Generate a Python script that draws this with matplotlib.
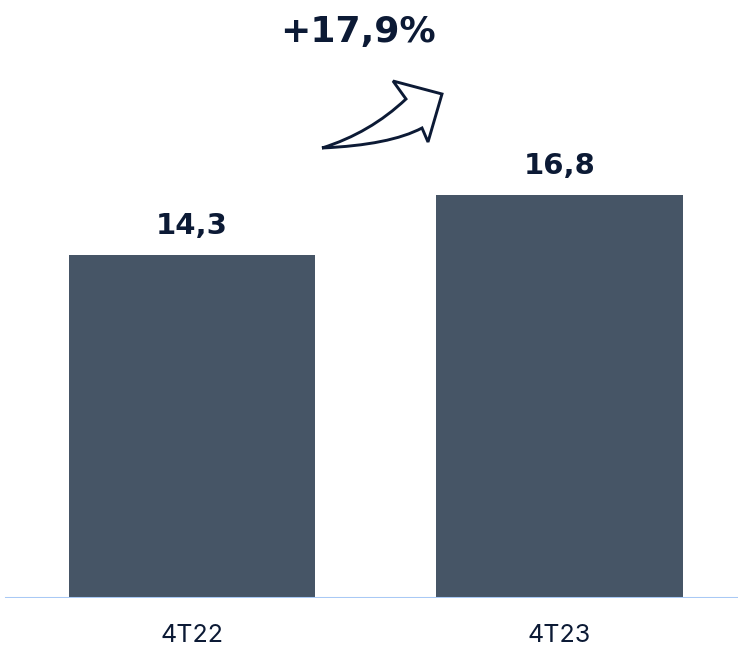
import matplotlib.pyplot as plt
from matplotlib.path import Path
from matplotlib.patches import PathPatch

# data
categories = ['4T22', '4T23']
values = [14.3, 16.8]
value_labels = ['14,3', '16,8']
growth_label = '+17,9%'

bar_color = '#465566'
text_color = '#0c1a35'
axis_color = '#a9c9f5'

plt.rcParams['font.family'] = ['Inter', 'DejaVu Sans']
bold_font = ['DejaVu Sans']

fig = plt.figure(figsize=(7.38, 6.51), dpi=100)
ax = fig.add_axes([0, 53 / 651, 1, 598 / 651])

xs = range(len(categories))
ax.bar(xs, values, width=0.67, color=bar_color, zorder=2)
ax.set_xlim(-192 / 367.5, (738 - 192) / 367.5)
ax.set_ylim(0, 598 / 24)

for x, v, lab in zip(xs, values, value_labels):
    ax.annotate(lab, (x, v), xytext=(0, 15), textcoords='offset points',
                ha='center', va='baseline', fontsize=21, fontweight='bold',
                family=bold_font, color=text_color)

for spine in ax.spines.values():
    spine.set_visible(False)
ax.axhline(0, xmin=6 / 738, xmax=1, color=axis_color, lw=2.2, zorder=3)
ax.set_yticks([])
ax.set_xticks(list(xs))
ax.set_xticklabels(categories, fontsize=18, color=text_color)
ax.tick_params(axis='x', length=0, pad=19)

# growth text and the outlined arrow (pixel coords from top-left)
fig.text(358 / 738, 1 - 42 / 651, growth_label, ha='center', va='baseline',
         fontsize=26, fontweight='bold', family=bold_font, color=text_color)

pts = [(322, 148), (370, 133), (406, 99), (393, 81), (442, 94), (428, 142),
       (422, 128), (390, 145), (322, 148)]
codes = [Path.MOVETO, Path.CURVE3, Path.CURVE3, Path.LINETO, Path.LINETO,
         Path.LINETO, Path.LINETO, Path.CURVE3, Path.CURVE3]
verts = [(px / 738, 1 - py / 651) for px, py in pts]
arrow = PathPatch(Path(verts, codes), transform=fig.transFigure,
                  facecolor='white', edgecolor=text_color, lw=2.1,
                  joinstyle='miter')
fig.patches.append(arrow)

fig.savefig('out.png', dpi=100)
